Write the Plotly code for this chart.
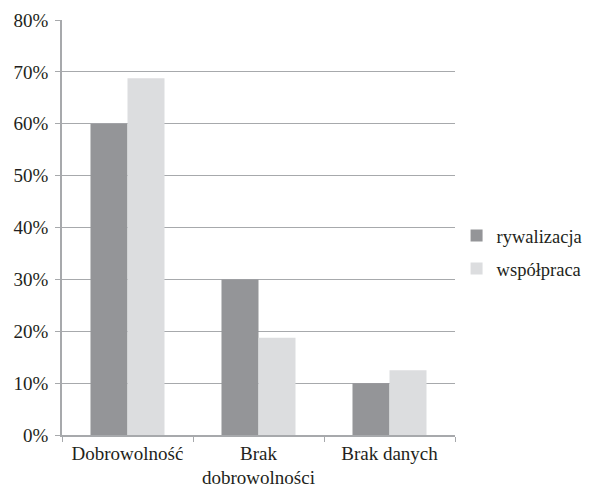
import plotly.graph_objects as go

categories = ["Dobrowolność", "Brak<br>dobrowolności", "Brak danych"]
series_names = ["rywalizacja", "współpraca"]
rywalizacja = [60, 30, 10]
wspolpraca = [68.75, 18.75, 12.5]
y_ticks = [0, 10, 20, 30, 40, 50, 60, 70, 80]
y_tick_labels = ["0%", "10%", "20%", "30%", "40%", "50%", "60%", "70%", "80%"]
colors = ["#949598", "#dcdddf"]

fig = go.Figure()
for name, vals, col in zip(series_names, [rywalizacja, wspolpraca], colors):
    fig.add_trace(go.Bar(
        x=categories, y=vals, name=name, marker_color=col,
        marker_line_width=0, legendgroup=name,
    ))

font = dict(family="Liberation Serif", size=19, color="#231f20")
legend_font = dict(family="Liberation Serif", size=18.5, color="#231f20")
# page body adds an 8px offset, so the figure is 8px smaller and margins shifted
fig.update_layout(
    width=585, height=480,
    margin=dict(l=54, r=138, t=12, b=53, autoexpand=False),
    paper_bgcolor="white", plot_bgcolor="white",
    barmode="group", bargap=0.435, bargroupgap=0,
    font=font,
    showlegend=True,
    legend=dict(x=1.004, y=0.44, xanchor="left", yanchor="middle",
                traceorder="grouped", tracegroupgap=6,
                itemwidth=30, font=legend_font),
)
fig.update_yaxes(
    range=[0, 80], tickmode="array", tickvals=y_ticks, ticktext=y_tick_labels,
    automargin=False, ticklabelstandoff=3,
    showgrid=True, gridcolor="#a7a9ac", gridwidth=1.3,
    showline=True, linecolor="#a7a9ac", linewidth=1.5,
    ticks="outside", ticklen=5, tickcolor="#a7a9ac",
    zeroline=False,
)
fig.update_xaxes(
    automargin=False, ticklabelstandoff=0,
    showline=True, linecolor="#a7a9ac", linewidth=1.5,
    ticks="outside", ticklen=5, tickcolor="#a7a9ac", tickson="boundaries",
)
fig.write_html("out.html")
